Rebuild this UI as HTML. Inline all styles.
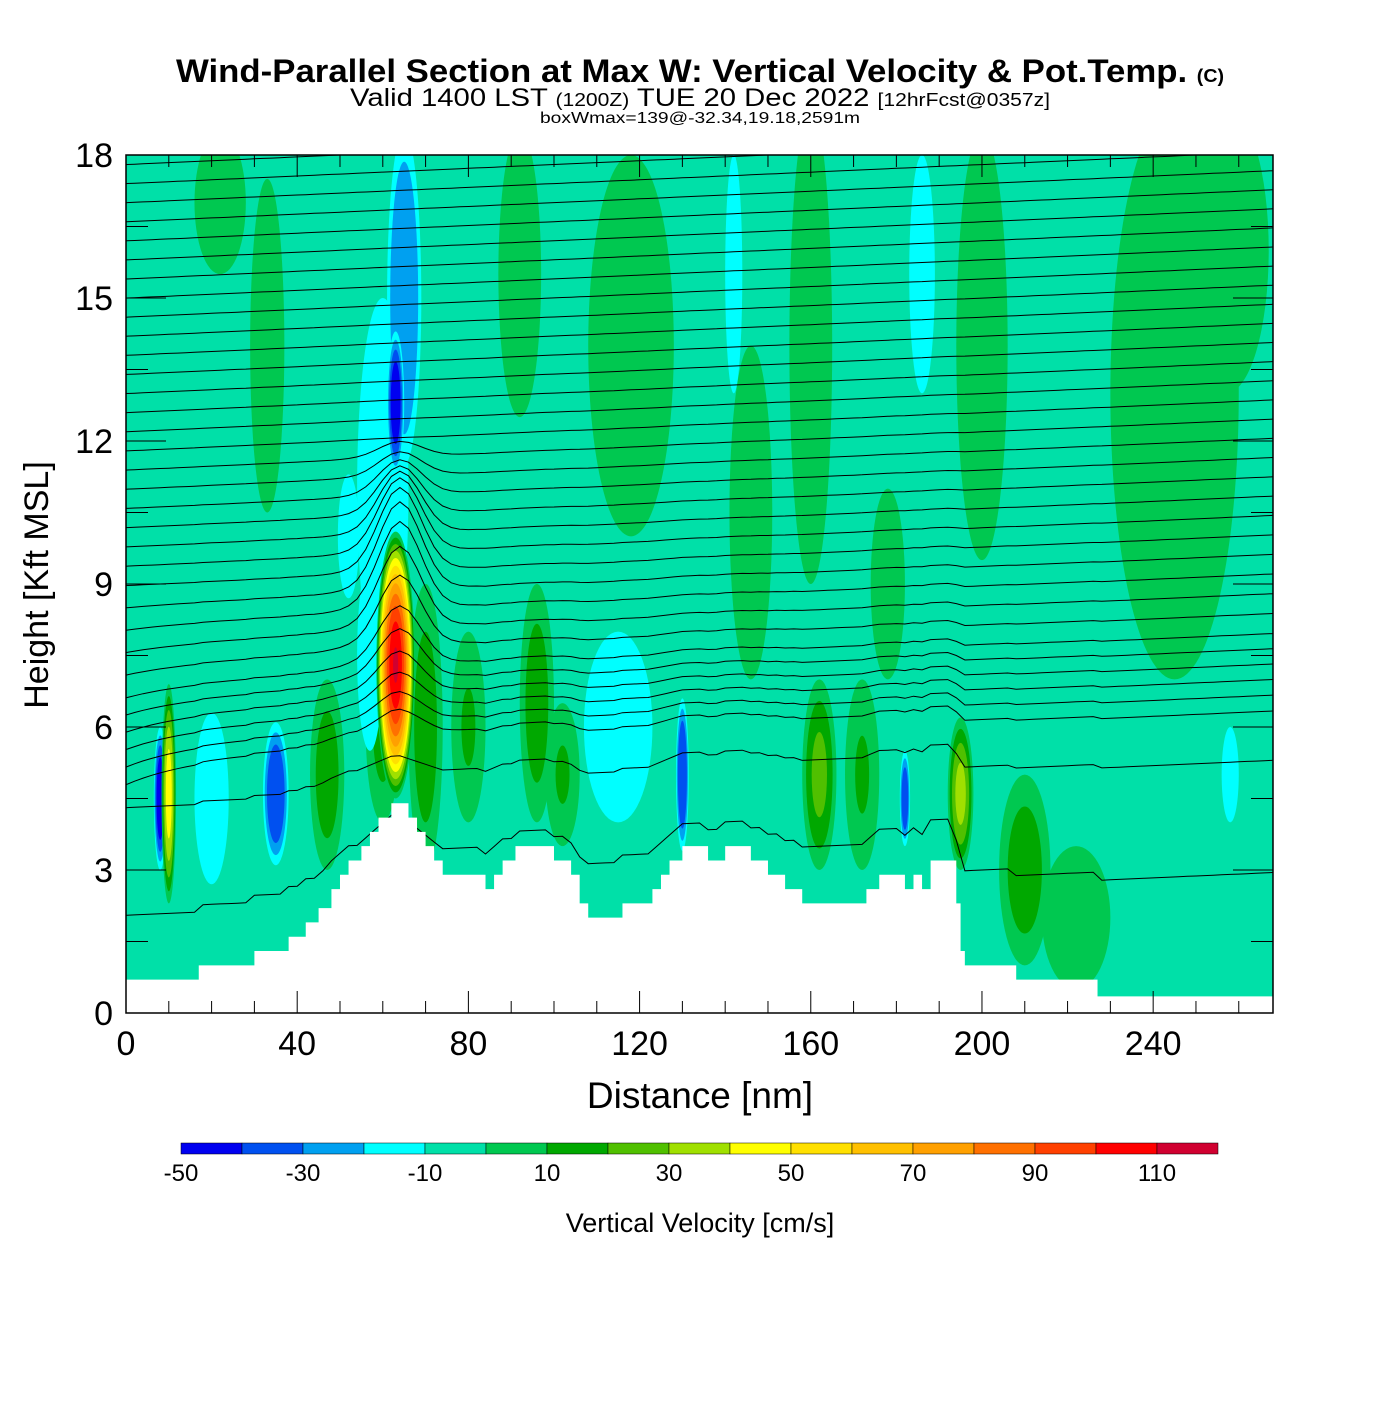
<!DOCTYPE html>
<html><head><meta charset="utf-8"><style>
body{margin:0;background:#fff}
svg text{font-family:"Liberation Sans",sans-serif}
</style></head><body>
<svg id="chart" width="1400" height="1400" xmlns="http://www.w3.org/2000/svg">
<rect width="1400" height="1400" fill="#fff"/>
<text x="176" y="82" textLength="1048" lengthAdjust="spacingAndGlyphs" font-size="32" font-weight="bold">Wind-Parallel Section at Max W: Vertical Velocity &amp; Pot.Temp. <tspan font-size="18">(C)</tspan></text>
<text x="350" y="106" textLength="700" lengthAdjust="spacingAndGlyphs" font-size="25">Valid 1400 LST <tspan font-size="18">(1200Z)</tspan> TUE 20 Dec 2022 <tspan font-size="18">[12hrFcst@0357z]</tspan></text>
<text x="540" y="123" textLength="320" lengthAdjust="spacingAndGlyphs" font-size="16">boxWmax=139@-32.34,19.18,2591m</text>
<defs><clipPath id="pc"><rect x="126" y="155" width="1147" height="858"/></clipPath></defs>
<g id="plot" clip-path="url(#pc)"></g>
<g id="axes"></g>
<g id="cbar"></g>
<text x="700" y="1108" text-anchor="middle" font-size="37">Distance [nm]</text>
<text transform="translate(48,585) rotate(-90)" text-anchor="middle" font-size="34">Height [Kft MSL]</text>
<text x="700" y="1232" text-anchor="middle" font-size="27">Vertical Velocity [cm/s]</text>
</svg>
<script>
// ---- data ----
const levels = [-50,-40,-30,-20,-10,0,10,20,30,40,50,60,70,80,90,100,110,120];
const levelColors = ["#0000f0","#0050f0","#00a0f0","#00ffff","#00e0a8","#00c850","#00a800","#50c000","#a0e000","#ffff00","#ffe000","#ffc000","#ffa000","#ff7000","#ff4000","#ff0000","#d00030"];
const xTicks = [0,40,80,120,160,200,240];
const yTicks = [0,3,6,9,12,15,18];
const cbLabels = [-50,-30,-10,10,30,50,70,90,110];
// terrain: distance breakpoints (nm) and heights (kft)
const terrainX = [0,17,30,38,42,45,48,50,52,55,57,59,62,66,68,70,72,74,84,86,88,91,100,104,106,108,116,123,125,127,130,136,140,146,150,154,158,173,176,182,184,186,188,194,195,196,208,227,268];
const terrainH = [0.7,1.0,1.3,1.6,1.9,2.2,2.6,2.9,3.2,3.5,3.8,4.1,4.4,4.1,3.8,3.5,3.2,2.9,2.6,2.9,3.2,3.5,3.2,2.9,2.3,2.0,2.3,2.6,2.9,3.2,3.5,3.2,3.5,3.2,2.9,2.6,2.3,2.6,2.9,2.6,2.9,2.6,3.2,2.3,1.3,1.0,0.7,0.35,0.35];
// vertical-velocity features: center x(nm), center z(kft), half-width (nm), half-height (kft), peak (cm/s)
const blobX = [22,33,92,118,146,160,178,200,245,257,47,60,70,80,96,102,162,172,210,222,60,65,63,52,57,20,35,8,115,130,142,186,182,258,63,10,195];
const blobZ = [17,14,15.5,14,10.5,14,9,14,13,16,5,6,6,6,6.5,5,5,5,3,2,11,15,12.8,10,7.5,4.5,4.6,4.5,6,5,15.5,15.5,4.5,5,7.3,4.6,4.6];
const blobW = [6,4,5,10,5,5,4,6,15,10,4,4,4,4,4,4,4,4,6,8,6,4,2,2.5,3,4,3,1.5,8,1.5,2,3,1.2,2,4.5,1.7,3];
const blobH = [1.5,3.5,3,4,3.5,5,2,4.5,6,3,2,2,3,2,2.5,1.5,2,2,2,1.5,4,3.5,1.5,1.3,2,1.8,1.5,1.5,2,1.6,2.5,2.5,1,1,2.8,2.3,1.6];
const blobV = [8,8,8,8,8,8,8,8,8,8,18,15,18,12,18,12,25,12,18,8,-15,-30,-45,-15,-15,-18,-38,-45,-18,-40,-15,-15,-35,-12,112,48,36];
// potential temperature contour base heights (kft)
const thetaBase = [2.7,4.6,5.5,5.8,6.1,6.4,6.7,7.0,7.4,7.8,8.2,8.6,9.0,9.4,9.8,10.2,10.6,11.0,11.4,11.8,12.2,12.6,13.0,13.4,13.8,14.2,14.6,15.0,15.4,15.8,16.2,16.6,17.0,17.4,17.8];

// ---- scales ----
const X0=126,X1=1273,Y0=1013,Y1=155,XMAX=268,ZMAX=18;
const sx=d=>X0+d*(X1-X0)/XMAX, sy=z=>Y0-z*(Y0-Y1)/ZMAX;
const NS="http://www.w3.org/2000/svg";
function mk(t,a,p){const e=document.createElementNS(NS,t);for(const k in a)e.setAttribute(k,a[k]);p.appendChild(e);return e;}
const plot=document.getElementById('plot');
function colorFor(v){for(let i=0;i<levelColors.length;i++){if(v<levels[i+1])return levelColors[i];}return levelColors[levelColors.length-1];}
const bg=mk('rect',{x:X0,y:Y1,width:X1-X0,height:Y0-Y1,fill:levelColors[4]},plot);


for(let b=0;b<blobX.length;b++){
  const v=blobV[b];
  const g=mk('g',{},plot);
  
  
  const steps=[];
  if(v>0){for(let L=0;L<v;L+=10)steps.push(L);} else {for(let L=-10;L>v;L-=10)steps.push(L);}
  steps.forEach(L=>{
    const fr=v>0?Math.sqrt(1-L/v):Math.sqrt(Math.max(0.02,1-(L+10)/v));
    const lv=v>0?L:L-0.01;
    mk('ellipse',{cx:sx(blobX[b]),cy:sy(blobZ[b]),rx:blobW[b]*(X1-X0)/XMAX*fr,ry:blobH[b]*(Y0-Y1)/ZMAX*fr,fill:colorFor(lv)},g);
  });
}
function terrainAt(d){for(let i=terrainX.length-2;i>=0;i--)if(d>=terrainX[i])return terrainH[i];return terrainH[0];}
const tg=mk('g',{fill:'none',stroke:'#000','stroke-width':1},plot);


thetaBase.forEach((h,k)=>{
  let pts=[];
  for(let d=0;d<=XMAX;d+=2){
    const dec=Math.exp(-Math.max(0,h-3)/2);
    const ter=terrainAt(d);
    let z=h+0.004*d+(ter-2)*0.5*dec;
    if(h>5&&h<9) z-=0.6*Math.exp(-d/15)*(9-h)/4;
    const gx=Math.exp(-Math.pow((d-64)/7,2));
    const gh=(h>5&&h<11.5)?1.8*Math.exp(-Math.pow((h-8.5)/2.2,2)):0;
    z+=gx*gh;
    pts.push(sx(d).toFixed(1)+','+sy(z).toFixed(1));
  }
  const l=mk('polyline',{points:pts.join(' ')},tg);
  
  
});
let tp=[sx(0)+','+sy(0)];
for(let i=0;i<terrainX.length-1;i++){tp.push(sx(terrainX[i])+','+sy(terrainH[i]));tp.push(sx(terrainX[i+1])+','+sy(terrainH[i]));}
tp.push(sx(XMAX)+','+sy(0));
const ter=mk('polygon',{points:tp.join(' '),fill:'#fff'},plot);


const ax=document.getElementById('axes');
const frame=mk('rect',{x:X0,y:Y1,width:X1-X0,height:Y0-Y1,fill:'none',stroke:'#000','stroke-width':1.5},ax);


for(let d=10;d<XMAX;d+=10){const big=d%40===0;const L=big?22:12;
  mk('line',{x1:sx(d),x2:sx(d),y1:Y0,y2:Y0-L,stroke:'#000'},ax);
  mk('line',{x1:sx(d),x2:sx(d),y1:Y1,y2:Y1+L,stroke:'#000'},ax);}
for(let z=1.5;z<ZMAX;z+=1.5){const big=z%3===0;const L=big?40:22;
  mk('line',{x1:X0,x2:X0+L,y1:sy(z),y2:sy(z),stroke:'#000'},ax);
  mk('line',{x1:X1,x2:X1-L,y1:sy(z),y2:sy(z),stroke:'#000'},ax);}
xTicks.forEach(d=>{const t=mk('text',{x:sx(d),y:1055,'text-anchor':'middle','font-size':34},ax);t.textContent=d;
  
  });
yTicks.forEach(z=>{const t=mk('text',{x:113,y:sy(z)+12,'text-anchor':'end','font-size':34},ax);t.textContent=z;
  
  });
const cb=document.getElementById('cbar');
const CW=(1218-181)/levelColors.length;
levelColors.forEach((c,i)=>{const r=mk('rect',{x:181+i*CW,y:1143,width:CW,height:11,fill:c,stroke:'#000','stroke-width':0.5},cb);
  
  });
cbLabels.forEach(v=>{const t=mk('text',{x:181+(v-levels[0])/10*CW,y:1181,'text-anchor':'middle','font-size':24},cb);t.textContent=v;
  
  });
</script>
</body></html>
